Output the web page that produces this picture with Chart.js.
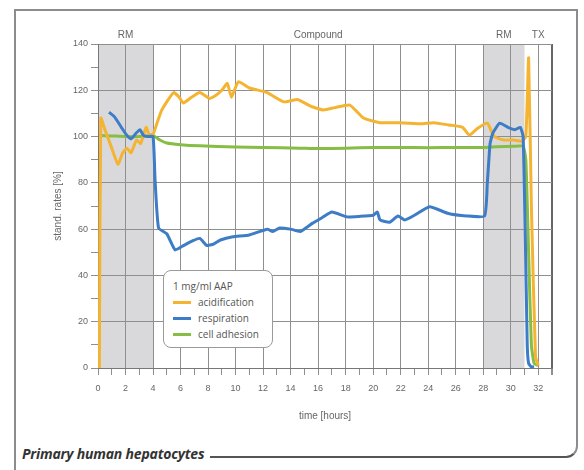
<!DOCTYPE html>
<html>
<head>
<meta charset="utf-8">
<script src="https://cdn.jsdelivr.net/npm/chart.js@4.4.1/dist/chart.umd.min.js"></script>
<style>
  body { margin: 0; background: #fff; }
  #wrap { position: relative; width: 584px; height: 470px; overflow: hidden; font-family: 'Open Sans', sans-serif; }
  #frame { position: absolute; left: 14px; top: 9px; width: 564px; height: 449px; border: 2px solid #8c8c8c; border-left: none; border-bottom-color: #555; border-bottom-right-radius: 12px; box-sizing: border-box; }
  #leftline { position: absolute; left: 14px; top: 9px; width: 2px; height: 470px; background: #8c8c8c; }
  #caption { position: absolute; left: 16px; top: 444px; font-size: 14px; font-weight: bold; font-style: italic; color: #333; background: #fff; padding: 0 6px 0 6px; letter-spacing: -0.2px; }
  canvas { position: absolute; left: 0; top: 0; }
  #legend { position: absolute; left: 163px; top: 270px; width: 110px; height: 78px; box-sizing: border-box; border: 1px solid #9a9a9a; border-radius: 8px; background: #fff; padding: 7px 0 0 9px; font-size: 10px; color: #555; line-height: 16px; }
  #legend .row { display: flex; align-items: center; }
  #legend .sw { width: 18px; height: 3px; margin-right: 7px; }
</style>
</head>
<body>
<div id="wrap">
  <div id="frame"></div>
  <div id="leftline"></div>
  <canvas id="chart" width="584" height="470"></canvas>
  <div id="legend"></div>
  <div id="caption">Primary human hepatocytes</div>
</div>
<script>
const seriesNames = ['acidification', 'respiration', 'cell adhesion'];
const seriesColors = ['#f4b431', '#3d7cc6', '#86bd45'];
const legendTitle = '1 mg/ml AAP';

const topLabels = ['RM', 'Compound', 'RM', 'TX'];
const topLabelAt = [2, 16, 29.5, 32];
const bandStart = [0, 28];
const bandEnd = [4, 31];

const acidHours = [0.1, 0.2, 0.5, 1.0, 1.45, 1.8, 2.1, 2.4, 2.8, 3.1, 3.5, 3.7, 4.0, 4.3, 4.6, 5.0, 5.5, 5.9, 6.2, 6.8, 7.4, 8.1, 8.6, 9.0, 9.4, 9.7, 10.2, 11.0, 12.3, 13.5, 14.5, 15.5, 16.4, 17.2, 18.3, 19.3, 20.5, 22.0, 23.5, 24.4, 25.5, 26.5, 27.0, 27.6, 28.3, 28.8, 29.5, 30.2, 30.8, 31.1, 31.3, 31.5, 31.8, 32.0];
const acidification = [0, 108, 103, 95, 88, 93, 95, 93, 98.5, 97, 104, 101, 101, 106, 111, 115, 119, 117, 114.5, 117, 119, 116.5, 118, 120, 123, 117, 123.7, 121, 119, 115, 116, 113, 111.5, 112.5, 113.6, 108, 106, 106, 105.5, 106, 105, 104, 100.6, 103.6, 105.8, 100, 98.5, 98.5, 98, 100, 134, 70, 5, 1];

const respHours = [0.8, 1.2, 1.7, 2.1, 2.4, 2.7, 3.05, 3.3, 3.6, 4.0, 4.15, 4.4, 5.0, 5.6, 6.1, 6.9, 7.4, 7.9, 8.4, 8.9, 9.8, 11.0, 12.3, 12.7, 13.2, 14.0, 14.7, 15.6, 16.3, 17.0, 18.1, 19.0, 20.0, 20.3, 20.5, 21.2, 21.8, 22.3, 23.0, 24.1, 25.4, 26.8, 28.1, 28.3, 28.5, 28.7, 29.2, 29.8, 30.3, 30.7, 30.9, 31.05, 31.2, 31.3, 31.5, 31.7];
const respiration = [110.5, 108.5, 104, 100.5, 99, 101, 103, 100.5, 100, 100, 81, 60.5, 58, 51, 52.5, 55, 56, 53, 53.5, 55.3, 56.7, 57.5, 60, 59, 60.5, 60, 59, 62.6, 65, 67.4, 65.3, 65.5, 66, 67.4, 64, 63, 65.7, 64, 66, 69.7, 66.9, 65.7, 65.7, 80, 97, 101.5, 105.8, 104, 103, 104, 100, 60, 10, 2, 0.5, 0.5];

const adhHours = [0.1, 1, 2, 3, 4, 4.5, 5, 6, 7.4, 10, 12, 14.7, 16, 18, 20, 22, 24, 26, 28, 29, 30.2, 30.9, 31.1, 31.3, 31.5, 31.7, 32];
const adhesion = [100.5, 100.3, 100, 100, 100.5, 98.5, 97.2, 96.5, 96, 95.5, 95.3, 95, 94.8, 95, 95.3, 95.3, 95.2, 95.3, 95.3, 95.6, 95.8, 95.8, 90, 50, 10, 2, 1];

const toPoints = (xs, ys) => xs.map((x, i) => ({ x: x, y: ys[i] }));
const seriesData = [toPoints(acidHours, acidification), toPoints(respHours, respiration), toPoints(adhHours, adhesion)];

// legend box drawn as html
document.getElementById('legend').innerHTML = '<div>' + legendTitle + '</div>' +
  seriesNames.map((n, i) => `<div class="row"><span class="sw" style="background:${seriesColors[i]}"></span>${n}</div>`).join('');

const GRID = '#8f8f8f';
const TXT = '#666';

// grey RM bands, under the grid
const bands = {
  id: 'bands',
  beforeDraw(chart) {
    const { ctx, chartArea: { top, bottom }, scales: { x } } = chart;
    ctx.save();
    ctx.fillStyle = '#d9d9dc';
    bandStart.forEach((s, i) => {
      const a = x.getPixelForValue(s), b = x.getPixelForValue(bandEnd[i]);
      ctx.fillRect(a, top, b - a, bottom - top);
    });
    ctx.restore();
  }
};

new Chart(document.getElementById('chart'), {
  type: 'line',
  data: {
    datasets: seriesNames.map((n, i) => ({
      label: n,
      data: seriesData[i],
      borderColor: seriesColors[i],
      borderWidth: 3,
      pointRadius: 0,
      tension: 0.15,
      fill: false,
      order: [2, 1, 3][i]
    }))
  },
  options: {
    responsive: false,
    animation: false,
    devicePixelRatio: 1,
    layout: { padding: { left: 48, top: 20, right: 32, bottom: 44 } },
    plugins: { legend: { display: false }, tooltip: { enabled: false } },
    scales: {
      x: {
        type: 'linear', position: 'bottom', min: 0, max: 33,
        afterFit: s => { s.height = 58; },
        ticks: {
          stepSize: 1, autoSkip: false, maxRotation: 0, color: TXT, font: { size: 9 }, padding: 8,
          callback: v => (v % 2 === 0 && v <= 32) ? v : ''
        },
        grid: {
          color: c => (c.tick && c.tick.value === 33) ? '#666' : (c.tick && c.tick.value % 2 === 0) ? GRID : 'rgba(0,0,0,0)',
          tickColor: GRID, tickLength: 7, lineWidth: c => (c.tick && c.tick.value === 33) ? 2 : 1
        },
        border: { color: '#777' },
        title: { display: true, text: 'time [hours]', color: TXT, font: { size: 10 } }
      },
      x2: {
        type: 'linear', position: 'top', min: 0, max: 33,
        afterFit: s => { s.height = 24; },
        afterBuildTicks: s => { s.ticks = topLabelAt.map(v => ({ value: v })); },
        ticks: { autoSkip: false, maxRotation: 0, color: TXT, font: { size: 10 }, padding: 3,
          callback: (v, i) => topLabels[i] },
        grid: { display: false, drawTicks: false },
        border: { display: false }
      },
      y: {
        min: 0, max: 140,
        afterFit: s => { s.width = 50; },
        ticks: { stepSize: 10, color: TXT, font: { size: 9 }, callback: v => v % 20 === 0 ? v : '' },
        grid: {
          color: c => (c.tick && c.tick.value % 20 === 0) ? GRID : 'rgba(0,0,0,0)',
          tickColor: GRID, tickLength: 7
        },
        border: { color: '#777' },
        title: { display: true, text: 'stand. rates [%]', color: TXT, font: { size: 10 } }
      }
    }
  },
  plugins: [bands]
});
</script>
</body>
</html>
